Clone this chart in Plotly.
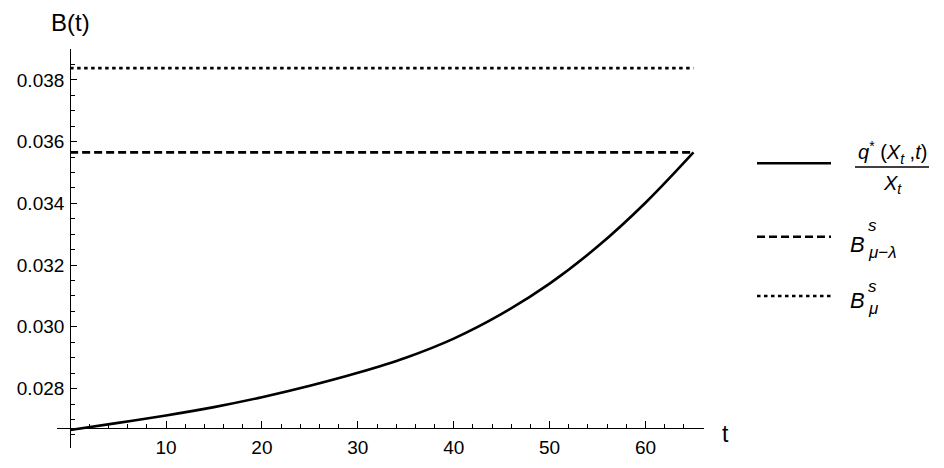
import plotly.graph_objects as go

# values
t = [0, 5, 10, 15, 20, 25, 30, 35, 40, 45, 50, 55, 60, 65]
b_opt = [0.02666, 0.02689, 0.02713, 0.02740, 0.02772, 0.02809, 0.02851,
         0.02900, 0.02962, 0.03042, 0.03140, 0.03260, 0.03402, 0.03565]
b_mu_lambda = 0.03565
b_mu = 0.03838

x_ticks = [10, 20, 30, 40, 50, 60]
y_ticks = [0.028, 0.030, 0.032, 0.034, 0.036, 0.038]
y_tick_text = ["0.028", "0.030", "0.032", "0.034", "0.036", "0.038"]

W, H = 944, 468
OFF = 8  # page body margin
ML, MR, MT, MB = 57 - OFF, 18, 49 - OFF, 28
plot_w = W - ML - MR
plot_h = H - MT - MB
x_range = [-1.37, 66.1]
y_range = [0.026075, 0.0390]
origin_y = 0.02671
x_dom_end = (704 - 57) / plot_w

FONT = "Liberation Sans, Arial, sans-serif"


def px(xp):
    # page pixel -> paper fraction
    return (xp - 57) / plot_w


def py(yp):
    return (448 - yp) / plot_h


line_w = 2.6
dash_style = "8px,4px"
dot_style = "3.5px,3.5px"

fig = go.Figure()

fig.add_trace(go.Scatter(x=t, y=b_opt, mode="lines", line_shape="spline",
                         line=dict(color="black", width=line_w)))
fig.add_trace(go.Scatter(x=[t[0], t[-1]], y=[b_mu_lambda, b_mu_lambda], mode="lines",
                         line=dict(color="black", width=line_w, dash=dash_style)))
fig.add_trace(go.Scatter(x=[t[0], t[-1]], y=[b_mu, b_mu], mode="lines",
                         line=dict(color="black", width=line_w, dash=dot_style)))

# hand-made legend on a helper axis (page pixel units)
key_x = [757, 831]
key_rows = [163.3, 236.7, 296]
key_dash = ["solid", dash_style, dot_style]
for row, dsh in zip(key_rows, key_dash):
    fig.add_trace(go.Scatter(x=key_x, y=[row, row], mode="lines", xaxis="x2", yaxis="y2",
                             line=dict(color="black", width=line_w, dash=dsh)))
# fraction bar
fig.add_trace(go.Scatter(x=[855, 929], y=[167, 167], mode="lines", xaxis="x2", yaxis="y2",
                         line=dict(color="black", width=1.3)))

annos = [
    dict(text="<i>q</i><sup>*</sup> (<i>X</i><sub><i>t</i></sub> ,<i>t</i>)", x=892, y=152,
         xanchor="center", size=20),
    dict(text="<i>X</i><sub><i>t</i></sub>", x=892, y=184, xanchor="center", size=20),
    dict(text="<i>B</i>", x=848, y=244, xanchor="left", size=22),
    dict(text="<i>s</i>", x=866, y=225, xanchor="left", size=17),
    dict(text="<i>μ</i>−<i>λ</i>", x=866, y=252, xanchor="left", size=17),
    dict(text="<i>B</i>", x=848, y=300, xanchor="left", size=22),
    dict(text="<i>s</i>", x=866, y=286, xanchor="left", size=17),
    dict(text="<i>μ</i>", x=866, y=308, xanchor="left", size=17),
]
annotations = []
for a in annos:
    annotations.append(dict(text=a["text"], x=a["x"], y=a["y"], xref="x2", yref="y2",
                            xanchor=a["xanchor"], yanchor="middle", showarrow=False,
                            font=dict(family=FONT, size=a["size"], color="black")))
annotations.append(dict(text="B(t)", x=px(70), y=py(23), xref="paper", yref="paper",
                        xanchor="center", yanchor="middle", showarrow=False,
                        font=dict(family=FONT, size=24, color="black")))
annotations.append(dict(text="t", x=px(725), y=py(434), xref="paper", yref="paper",
                        xanchor="center", yanchor="middle", showarrow=False,
                        font=dict(family=FONT, size=23, color="black")))

fig.update_layout(
    width=W, height=H,
    margin=dict(l=ML, r=MR, t=MT, b=MB, autoexpand=False),
    paper_bgcolor="white", plot_bgcolor="white",
    showlegend=False,
    font=dict(family=FONT, color="black"),
    annotations=annotations,
    xaxis=dict(
        domain=[0, x_dom_end], range=x_range, anchor="free", automargin=False,
        position=(origin_y - y_range[0]) / (y_range[1] - y_range[0]),
        showgrid=False, zeroline=False, showline=True, linecolor="black", linewidth=1,
        tickmode="array", tickvals=x_ticks, ticks="inside", ticklen=7, tickcolor="black",
        tickfont=dict(size=19), ticklabelstandoff=2,
        minor=dict(tickmode="linear", tick0=0, dtick=2, ticks="inside", ticklen=4,
                   tickcolor="black", showgrid=False),
    ),
    yaxis=dict(
        domain=[0, 1], range=y_range, anchor="free", automargin=False,
        position=x_dom_end * (0 - x_range[0]) / (x_range[1] - x_range[0]),
        showgrid=False, zeroline=False, showline=True, linecolor="black", linewidth=1,
        tickmode="array", tickvals=y_ticks, ticktext=y_tick_text,
        ticks="inside", ticklen=6, tickcolor="black",
        tickfont=dict(size=19), ticklabelstandoff=2,
        minor=dict(tickmode="linear", tick0=0.0265, dtick=0.0005, ticks="inside",
                   ticklen=4, tickcolor="black", showgrid=False),
    ),
    xaxis2=dict(domain=[px(740), 1], range=[740, 934], anchor="y2", visible=False,
                showgrid=False, zeroline=False, automargin=False),
    yaxis2=dict(domain=[0, 1], range=[448, 49], anchor="x2", visible=False,
                showgrid=False, zeroline=False, automargin=False),
)

fig.write_html("out.html")
